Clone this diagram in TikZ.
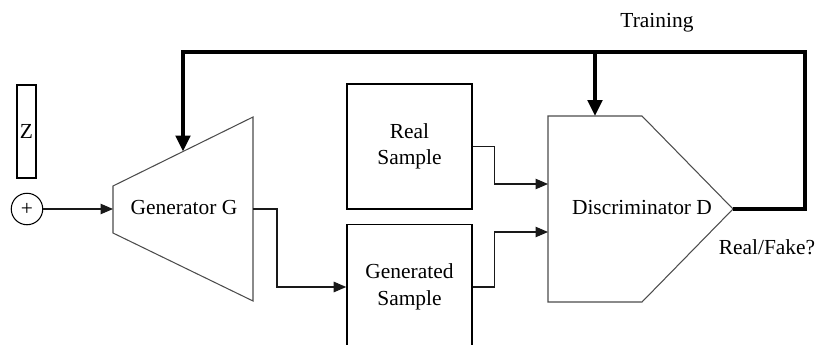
\documentclass[tikz,border=0pt]{standalone}
\usepackage{fontspec}
\setmainfont{Liberation Serif}
\usetikzlibrary{arrows.meta}
\usetikzlibrary{calc}

\begin{document}
\begin{tikzpicture}[x=0.02cm,y=-0.02cm,font=\fontsize{12.2}{15}\selectfont,
		smp/.style={draw,line width=0.9pt,minimum width=2.5cm,minimum height=2.5cm,align=center,inner sep=0pt},
		blk/.style={draw=black!70,line width=0.6pt},
		arr/.style={-{Triangle[length=2.5mm,width=2.1mm]},black!90,line width=0.6pt},
		fb/.style={-{Triangle[length=3.2mm,width=2.9mm]},black,line width=2pt}]
			\useasboundingbox (0,0) rectangle (829,345);
			% noise input
			\node [draw,line width=0.7pt,minimum width=0.38cm,minimum height=1.86cm,inner sep=0pt] (z) at (26.5,131.5) {Z};
			\node [circle,draw,line width=0.6pt,minimum size=0.63cm,inner sep=0pt] (add) at (27,209) {+};
			% generator
			\draw [blk] (113,186) -- (253,117) -- (253,301) -- (113,233) -- cycle;
			\node (gen) at (184,208) {Generator G};
			\coordinate (gin) at (113,209);
			\coordinate (gout) at (253,209);
			\coordinate (gtop) at (183,151.5);
			% samples
			\node [smp] (real) at (409.5,146.5) {Real\\Sample};
			\node [smp] (fake) at (409.5,287) {Generated\\Sample};
			% discriminator
			\draw [blk] (548,116) -- (642,116) -- (733,209) -- (642,302) -- (548,302) -- cycle;
			\node (dis) at (642,208) {Discriminator D};
			\coordinate (din1) at (548,184);
			\coordinate (din2) at (548,232);
			\coordinate (dtop) at (595,116);
			\coordinate (dout) at (733,209);
			% training loop
			\coordinate (ltr) at (805,52);
			\coordinate (lmid) at (595,52);
			\node (train) at (657,23) {Training};
			\node (rf) at (767,247) {Real/Fake?};
			\draw [arr] (add) -- (gin);
			\draw [arr] (gout) -- ++(24,0) |- (fake.west);
			\draw [arr] (real.east) -- ++(22,0) |- (din1);
			\draw [arr] (fake.east) -- ++(22,0) |- (din2);
			\draw [fb] (dout) -| (ltr) -| (gtop);
			\draw [fb] (lmid) -- (dtop);
		\end{tikzpicture}
\end{document}
